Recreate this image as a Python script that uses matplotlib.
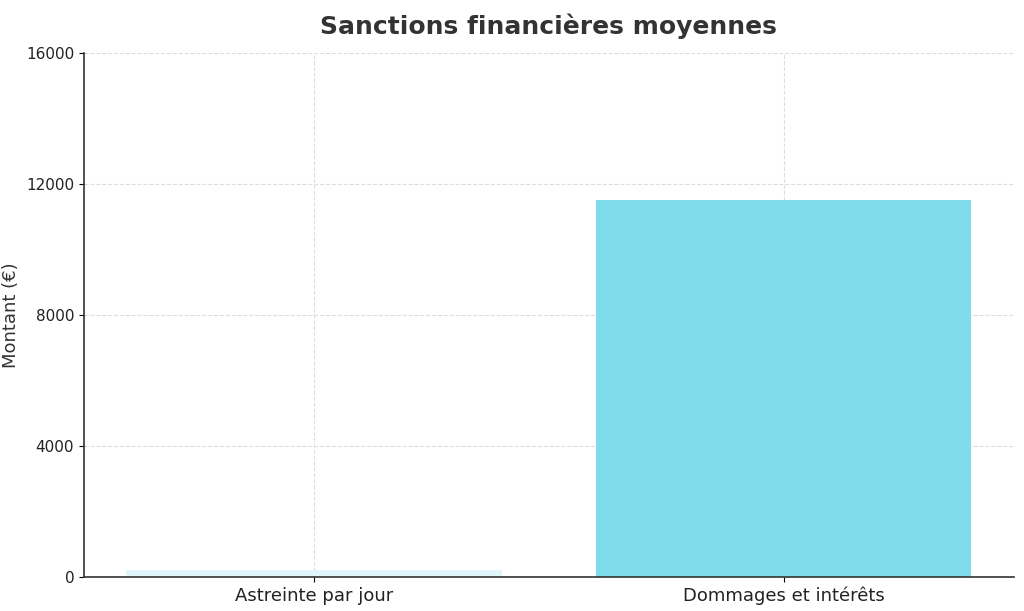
import matplotlib
matplotlib.use("Agg")
import matplotlib.pyplot as plt

categories = ["Astreinte par jour", "Dommages et intérêts"]
values = [200, 11500]
colors = ["#dff5fa", "#80dcea"]
yticks = [0, 4000, 8000, 12000, 16000]

fig = plt.figure(figsize=(10.24, 6.11), dpi=100)
ax = fig.add_axes([0.082, 0.056, 0.908, 0.857])
ax.bar(range(len(categories)), values, width=0.8, color=colors, zorder=2)
ax.set_xticks(range(len(categories)))
ax.set_xticklabels(categories, fontsize=13, color="#222222")
ax.set_xlim(-0.49, 1.49)
ax.set_ylim(0, 16000)
ax.set_yticks(yticks)
ax.set_yticklabels([str(v) for v in yticks], fontsize=11, color="#222222")
ax.set_ylabel("Montant (€)", fontsize=13, color="#333333")
ax.set_title("Sanctions financières moyennes", fontsize=18, fontweight="bold", color="#333333", pad=14)
ax.grid(True, linestyle="--", color="#dddddd", linewidth=0.8, zorder=3)
for s in ["top", "right"]:
    ax.spines[s].set_visible(False)
for s in ["left", "bottom"]:
    ax.spines[s].set_color("#333333")
    ax.spines[s].set_linewidth(1.2)
fig.savefig("out.png", dpi=100)
